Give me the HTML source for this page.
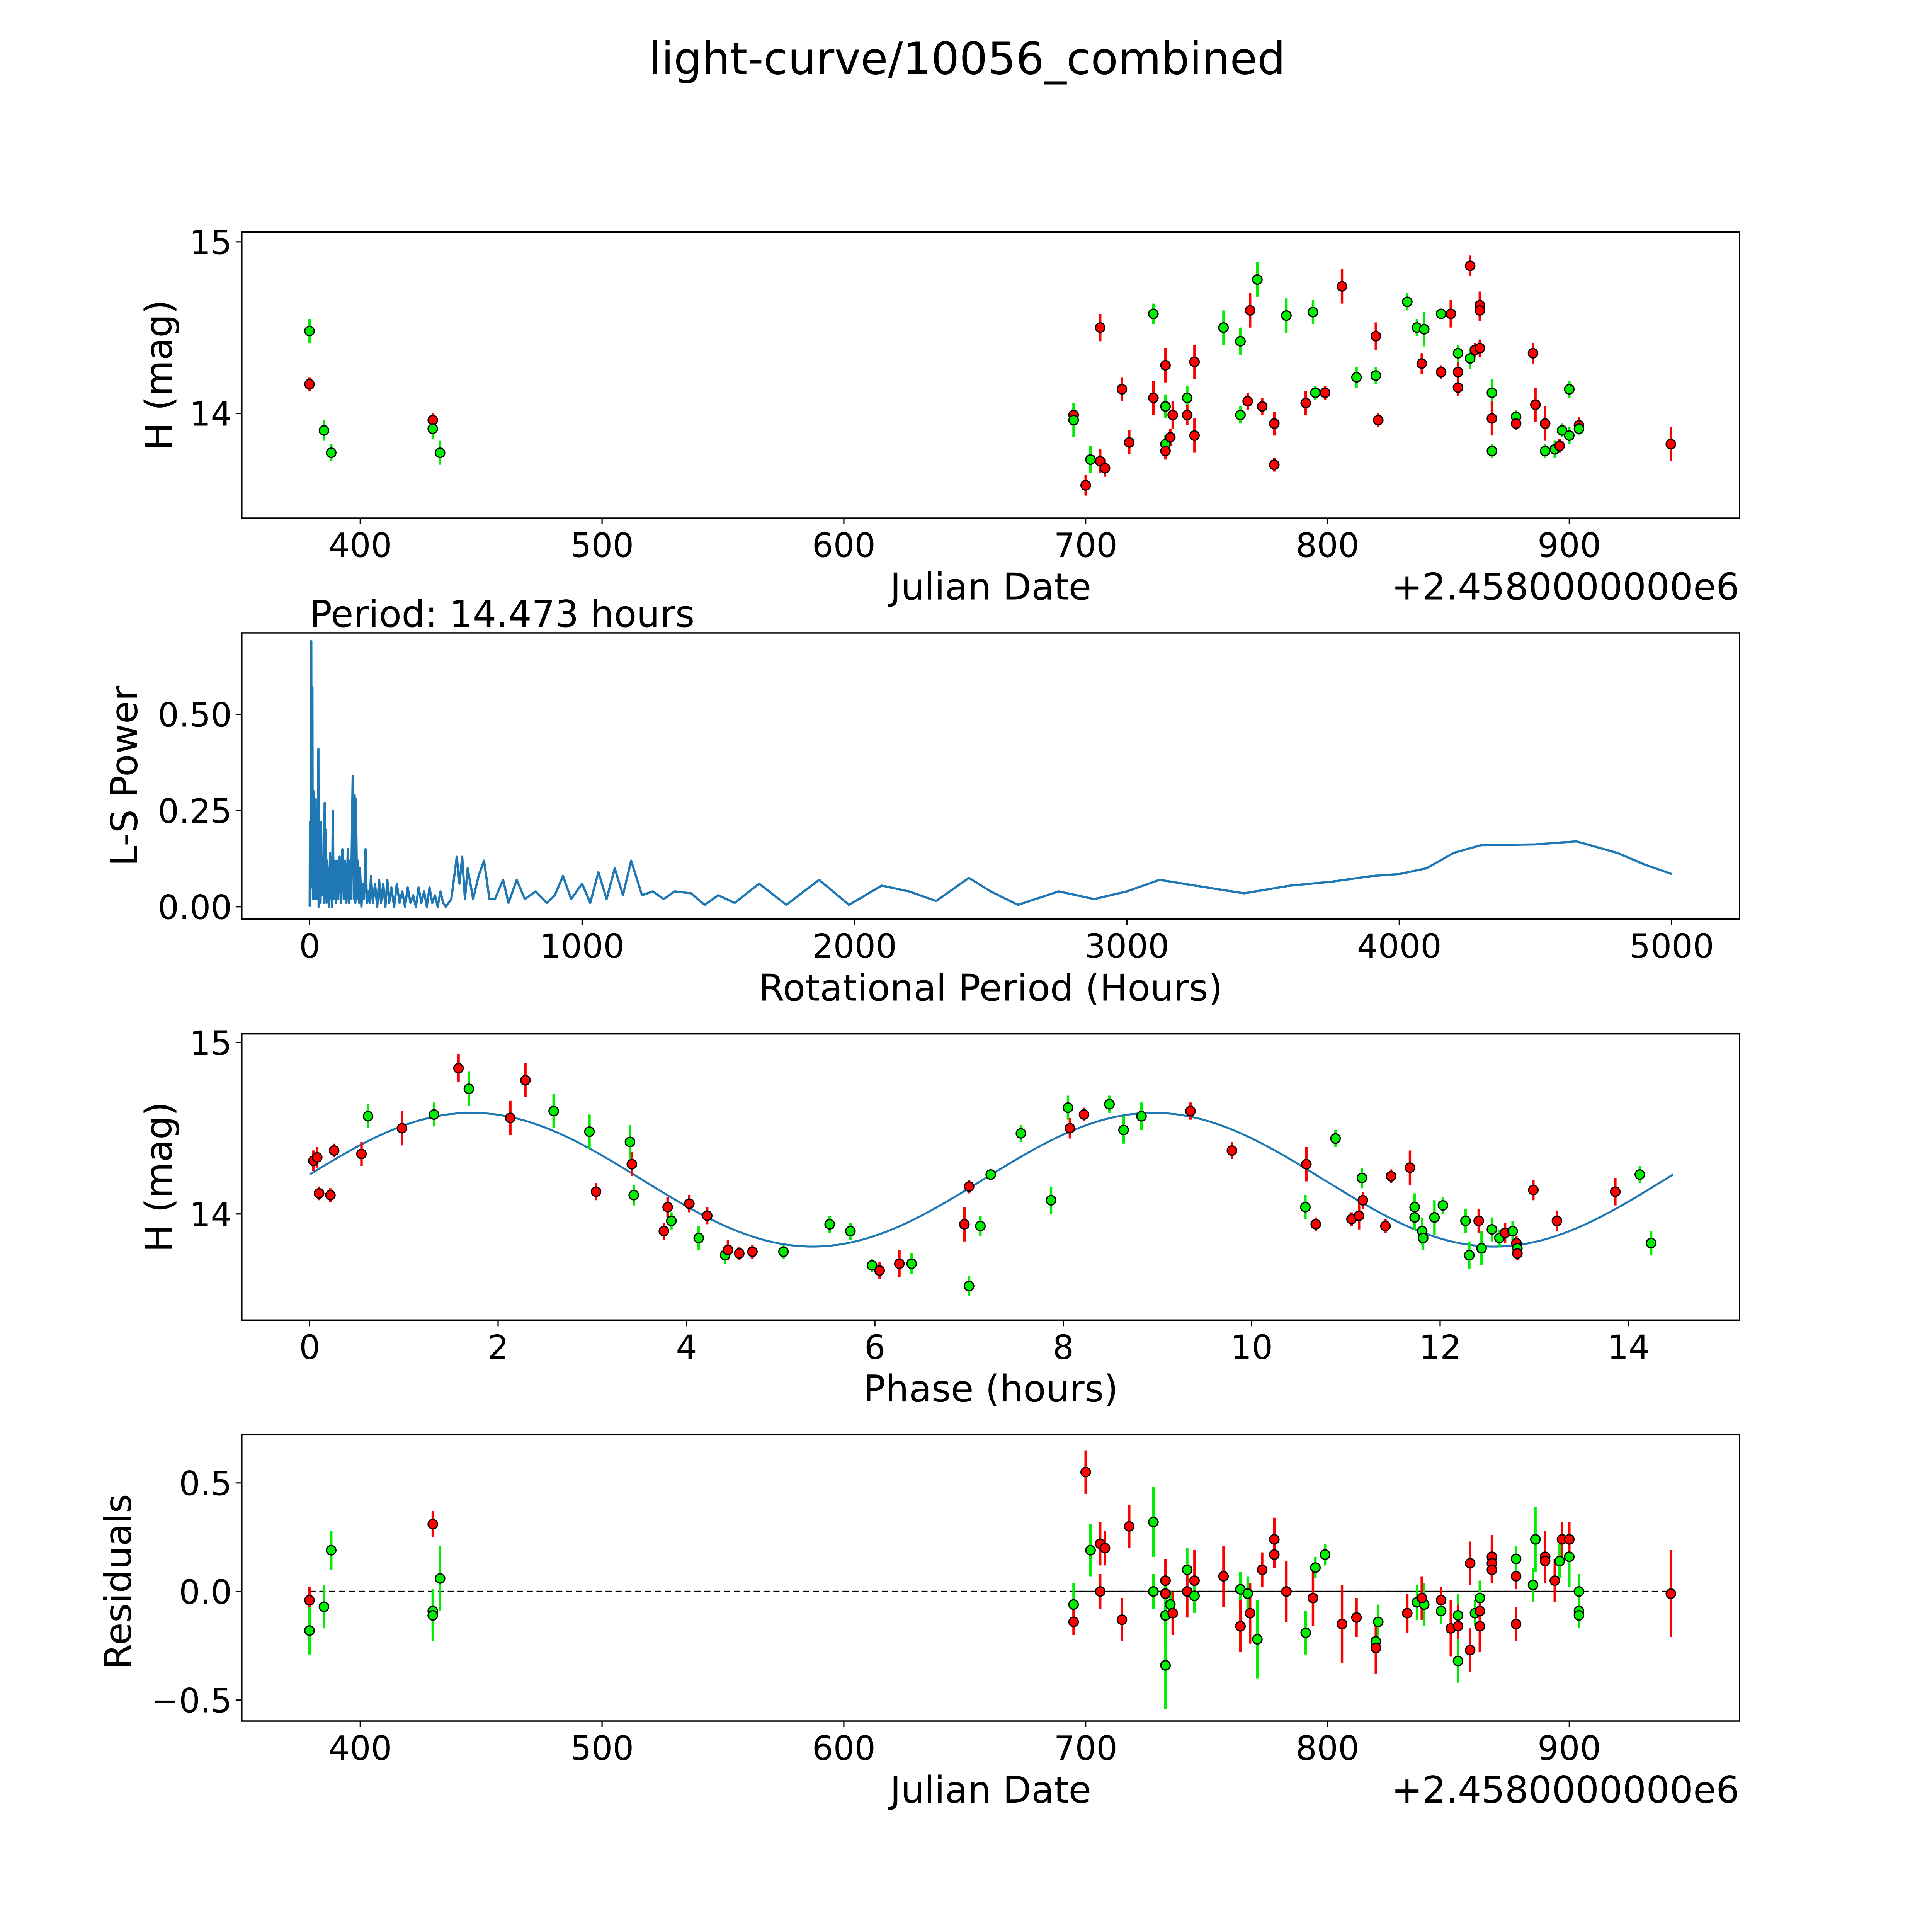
<!DOCTYPE html>
<html><head><meta charset="utf-8"><style>
html,body{margin:0;padding:0;background:#fff;width:100%;height:100%;overflow:hidden}
svg{display:block;width:100vw;height:100vh}
text{font-family:"DejaVu Sans","Liberation Sans",sans-serif;fill:#000}
</style></head><body>
<svg id="fig" viewBox="0 0 1566 1566" preserveAspectRatio="xMidYMid meet" xmlns="http://www.w3.org/2000/svg">
<rect width="1566" height="1566" fill="#fff"/>
<text x="784" y="60" font-size="36" text-anchor="middle">light-curve/10056_combined</text>
<g id="g1"></g>
<g id="g2"></g>
<g id="g3"></g>
<g id="g4"></g>
</svg>
<script>
// ---- Panel 1: light curve ----
const lcJD=[379,379,385,388,430,430,433,695,695,700,702,706,706,708,715,718,728,728,733,733,733,733,735,736,742,742,745,745,757,764,764,767,768,771,773,778,778,783,791,794,795,799,806,812,820,820,821,833,837,840,839,847,847,851,854,854,854,859,859,861,863,863,863,868,868,868,878,878,885,886,890,890,894,896,897,900,900,904,904,942];
const lcMag=[14.48,14.17,13.90,13.77,13.96,13.91,13.77,13.99,13.96,13.58,13.73,13.72,14.50,13.68,14.14,13.83,14.09,14.58,14.28,14.04,13.82,13.78,13.86,13.99,14.09,13.99,14.30,13.87,14.50,14.42,13.99,14.07,14.60,14.78,14.04,13.70,13.94,14.57,14.06,14.59,14.12,14.12,14.74,14.21,14.22,14.45,13.96,14.65,14.50,14.49,14.29,14.24,14.58,14.58,14.35,14.24,14.15,14.86,14.32,14.37,14.38,14.63,14.60,14.12,13.97,13.78,13.98,13.94,14.35,14.05,13.94,13.78,13.79,13.81,13.90,13.87,14.14,13.93,13.91,13.82];
const lcErr=[0.07,0.04,0.06,0.05,0.04,0.06,0.07,0.04,0.1,0.06,0.08,0.07,0.08,0.05,0.07,0.07,0.1,0.06,0.1,0.07,0.05,0.05,0.05,0.08,0.07,0.06,0.1,0.1,0.1,0.08,0.05,0.05,0.1,0.1,0.05,0.04,0.07,0.1,0.07,0.07,0.04,0.04,0.1,0.06,0.05,0.08,0.04,0.05,0.05,0.1,0.06,0.04,0.03,0.08,0.05,0.06,0.05,0.06,0.06,0.04,0.05,0.08,0.06,0.08,0.1,0.04,0.04,0.04,0.06,0.1,0.1,0.04,0.05,0.04,0.04,0.05,0.05,0.05,0.04,0.1];
const lcBand="grggrgg" + "rgrgrrrrrrgrggrrrgrrrggg" + "rrgrrrgrgg" + "rrggrrgggrrgrgrrrgrrrrgrggrrrrggrgggrgrgrg";
// ---- Panel 2: periodogram ----
const lsPeriod=[0,1,2,3,4,5,6,7,8,9,10,11,12,13,15,16,18,20,22,24,25,27,30,32,33,35,38,40,42,45,50,52,55,58,60,62,65,68,70,72,75,78,80,82,85,88,92,96,100,104,110,114,120,125,130,135,140,144,148,152,158,162,165,168,170,174,178,182,185,190,195,200,205,210,215,220,225,232,240,248,255,262,270,278,285,292,300,310,320,330,340,350,360,370,380,390,400,410,420,430,440,450,460,470,480,490,500,520,540,550,560,570,580,600,620,640,660,680,710,730,760,790,830,870,900,930,960,1000,1030,1060,1090,1120,1150,1180,1220,1260,1300,1340,1400,1450,1500,1560,1650,1750,1870,1980,2100,2200,2300,2420,2500,2600,2750,2880,3000,3120,3250,3430,3600,3750,3900,4000,4100,4200,4300,4500,4650,4800,4900,5000];
const lsPower=[0,0.22,0.02,0.18,0.05,0.4,0.69,0.1,0.5,0.05,0.57,0.1,0.02,0.25,0.3,0.02,0.2,0.05,0.28,0.02,0.1,0.25,0.02,0.41,0.0,0.2,0.15,0.01,0.22,0.03,0.13,0.01,0.27,0.02,0.2,0.01,0.12,0.02,0.1,0.0,0.14,0.02,0.12,0.0,0.25,0.02,0.12,0.01,0.12,0.02,0.13,0.01,0.15,0.02,0.12,0.01,0.15,0.01,0.12,0.02,0.34,0.02,0.29,0.01,0.28,0.02,0.12,0.01,0.1,0.0,0.06,0.02,0.15,0.01,0.04,0.01,0.08,0.01,0.06,0.0,0.07,0.01,0.06,0.0,0.07,0.01,0.05,0.0,0.06,0.01,0.04,0.0,0.05,0.01,0.03,0.0,0.05,0.01,0.04,0.0,0.05,0.01,0.03,0.0,0.04,0.01,0.0,0.02,0.13,0.06,0.13,0.02,0.10,0.02,0.08,0.12,0.02,0.02,0.07,0.01,0.07,0.02,0.04,0.01,0.03,0.08,0.02,0.06,0.01,0.09,0.02,0.10,0.03,0.12,0.03,0.04,0.02,0.04,0.035,0.005,0.03,0.01,0.06,0.005,0.07,0.005,0.055,0.04,0.015,0.075,0.04,0.005,0.04,0.02,0.04,0.07,0.055,0.035,0.055,0.065,0.08,0.085,0.10,0.14,0.16,0.162,0.17,0.14,0.11,0.085];
// ---- Panel 3: phase-folded ----
const phPhase=[0.04,0.08,0.1,0.22,0.26,0.55,0.62,0.98,1.32,1.58,1.69,2.13,2.29,2.59,2.97,3.04,3.40,3.42,3.44,3.76,3.80,3.84,4.03,4.13,4.22,4.41,4.44,4.56,4.70,5.03,5.52,5.74,5.97,6.05,6.26,6.39,6.95,7.0,7.0,7.12,7.23,7.55,7.87,8.05,8.07,8.22,8.49,8.64,8.83,9.35,9.79,10.57,10.58,10.68,10.89,11.06,11.14,11.18,11.17,11.42,11.48,11.68,11.73,11.73,11.81,11.82,11.94,12.03,12.27,12.31,12.41,12.44,12.55,12.63,12.69,12.77,12.81,12.82,12.82,12.99,13.24,13.86,14.12,14.24];
const phMag=[14.31,14.33,14.12,14.11,14.37,14.35,14.57,14.50,14.58,14.85,14.73,14.56,14.78,14.60,14.48,14.13,14.42,14.29,14.11,13.90,14.04,13.96,14.06,13.86,13.99,13.76,13.79,13.77,13.78,13.78,13.94,13.90,13.70,13.67,13.71,13.71,13.94,13.58,14.16,13.93,14.23,14.47,14.08,14.62,14.50,14.58,14.64,14.49,14.57,14.60,14.37,14.04,14.29,13.94,14.44,13.97,13.99,14.08,14.21,13.93,14.22,14.27,14.04,13.98,13.90,13.86,13.98,14.05,13.96,13.76,13.96,13.80,13.91,13.86,13.89,13.90,13.83,13.80,13.77,14.14,13.96,14.13,14.23,13.83];
const phErr=[0.06,0.06,0.04,0.04,0.04,0.07,0.07,0.1,0.07,0.08,0.1,0.1,0.1,0.1,0.1,0.05,0.1,0.07,0.06,0.05,0.06,0.05,0.05,0.07,0.05,0.05,0.06,0.04,0.04,0.04,0.05,0.05,0.04,0.05,0.08,0.06,0.1,0.06,0.04,0.06,0.03,0.05,0.08,0.07,0.06,0.04,0.05,0.08,0.08,0.05,0.05,0.07,0.1,0.04,0.05,0.04,0.08,0.05,0.06,0.04,0.04,0.1,0.08,0.07,0.08,0.07,0.1,0.05,0.07,0.08,0.07,0.1,0.07,0.05,0.06,0.06,0.04,0.06,0.04,0.06,0.06,0.08,0.05,0.07];
const phBand="rrrrrrgrgrgrrggrgrgrrgrgrgrrrggggrrgrgrgggggrrgggrrgrrgrrrgrrrggggggggrgggrgrgrrrrggrrr";
const modelCoef=[14.2,0.39,1.72,14.473];
// ---- Panel 4: residuals ----
const rsJD=[379,379,385,388,430,430,430,433,695,695,700,702,706,706,708,715,718,728,728,733,733,733,733,735,736,742,742,745,745,757,764,764,767,768,771,773,778,778,783,791,794,795,799,806,812,820,820,821,833,837,840,839,847,847,851,854,854,854,859,859,861,863,863,863,868,868,868,878,878,878,885,886,890,890,894,896,897,900,900,904,904,904,942];
const rsVal=[-0.04,-0.18,-0.07,0.19,0.31,-0.09,-0.11,0.06,-0.06,-0.14,0.55,0.19,0.22,0.0,0.2,-0.13,0.3,0.32,0,0.05,-0.01,-0.11,-0.34,-0.06,-0.1,0.1,0,0.05,-0.02,0.07,0.01,-0.16,-0.01,-0.1,-0.22,0.1,0.17,0.24,0,-0.19,-0.03,0.11,0.17,-0.15,-0.12,-0.23,-0.26,-0.14,-0.1,-0.05,-0.06,-0.03,-0.04,-0.09,-0.17,-0.11,-0.16,-0.32,-0.27,0.13,-0.1,-0.03,-0.16,-0.09,0.16,0.13,0.1,0.07,0.15,-0.15,0.03,0.24,0.16,0.14,0.05,0.14,0.24,0.16,0.24,0,-0.09,-0.11,-0.01];
const rsErr=[0.06,0.11,0.1,0.09,0.06,0.1,0.12,0.15,0.1,0.06,0.1,0.12,0.1,0.08,0.08,0.1,0.1,0.16,0.08,0.1,0.06,0.14,0.2,0.06,0.1,0.1,0.12,0.14,0.08,0.14,0.08,0.12,0.08,0.14,0.18,0.08,0.06,0.1,0.14,0.1,0.13,0.05,0.05,0.18,0.09,0.08,0.12,0.08,0.09,0.08,0.1,0.1,0.06,0.06,0.13,0.1,0.1,0.1,0.1,0.1,0.06,0.08,0.12,0.08,0.1,0.08,0.06,0.06,0.06,0.08,0.08,0.15,0.12,0.06,0.1,0.08,0.08,0.14,0.08,0.08,0.06,0.06,0.2];
const rsBand="rgggrgggg" + "rrgrrrrrggrrgggrgrrgrgrgrgrrrrgrggrrgrgrggrrgrgr" + "grrggrrrrrrgrggrrrgrgrgggrgrggrgg";

const NS="http://www.w3.org/2000/svg";
function mk(parent,tag,attrs,txt){const e=document.createElementNS(NS,tag);for(const k in attrs)e.setAttribute(k,attrs[k]);if(txt!==undefined)e.textContent=txt;parent.appendChild(e);return e;}
const L=196,R=1410,H=232;
function lin(d0,d1,p0,p1){return v=>p0+(v-d0)*(p1-p0)/(d1-d0);}
function frame(g,top){const r=mk(g,'rect',{x:L,y:top,width:R-L,height:H,fill:'none',stroke:'#000','stroke-width':1.1});

}
function xticks(g,top,vals,labels,sx){vals.forEach((v,i)=>{const x=sx(v);
mk(g,'line',{x1:x,x2:x,y1:top+H,y2:top+H+5,stroke:'#000','stroke-width':1});
const t=mk(g,'text',{x:x,y:top+H+31.5,'font-size':27,'text-anchor':'middle'},labels[i]);

});}
function yticks(g,vals,labels,sy){vals.forEach((v,i)=>{const y=sy(v);
mk(g,'line',{x1:L-5,x2:L,y1:y,y2:y,stroke:'#000','stroke-width':1});
const t=mk(g,'text',{x:L-8,y:y+10,'font-size':27,'text-anchor':'end'},labels[i]);

});}
function label(g,x,y,txt,rot,name,anchor,fs){const t=mk(g,'text',{x:x,y:y,'font-size':fs||30,'text-anchor':anchor||'middle',transform:rot?`rotate(-90 ${x} ${y})`:''},txt);

}
function points(g,xs,ys,es,bands,sx,sy){xs.forEach((xv,i)=>{const x=sx(xv),c=bands[i]==='r'?'#ff0000':'#00ee00';
const ln=mk(g,'line',{x1:x,x2:x,y1:sy(ys[i]-es[i]),y2:sy(ys[i]+es[i]),stroke:c,'stroke-width':2});

});
xs.forEach((xv,i)=>{const c=bands[i]==='r'?'#ff0000':'#00ee00';
const p=mk(g,'circle',{cx:sx(xv),cy:sy(ys[i]),r:3.8,fill:c,stroke:'#000','stroke-width':1});

});}
const jdTicks=[400,500,600,700,800,900];
// Panel 1
{const g=document.getElementById('g1'),top=188;const sx=lin(400,900,292,1272),sy=lin(15,14,196,335);
points(g,lcJD,lcMag,lcErr,lcBand,sx,sy);frame(g,top);
xticks(g,top,jdTicks,jdTicks.map(String),sx);yticks(g,[14,15],['14','15'],sy);
label(g,803,486,'Julian Date',false,'x-axis-title');label(g,139,304,'H (mag)',true,'y-axis-title');
label(g,1410,486,'+2.4580000000e6',false,'x-offset-label','end');}
// Panel 2
{const g=document.getElementById('g2'),top=513;const sx=lin(0,5000,251,1355),sy=lin(0,0.5,735,579);
const pts=lsPeriod.map((p,i)=>sx(p).toFixed(2)+','+sy(lsPower[i]).toFixed(2)).join(' ');
const pl=mk(g,'polyline',{points:pts,fill:'none',stroke:'#1f77b4','stroke-width':1.8,'stroke-linejoin':'round'});


frame(g,top);
const xt=[0,1000,2000,3000,4000,5000];xticks(g,top,xt,xt.map(String),sx);
yticks(g,[0,0.25,0.5],['0.00','0.25','0.50'],sy);
label(g,803,811,'Rotational Period (Hours)',false,'x-axis-title');label(g,111,629,'L-S Power',true,'y-axis-title');
label(g,251,508,'Period: 14.473 hours',false,'period-annotation','start');}
// Panel 3
{const g=document.getElementById('g3'),top=838;const sx=lin(0,14,251,1320),sy=lin(15,14,845,984);
const [m0,amp,pk,per]=modelCoef;let d='';for(let i=0;i<=300;i++){const ph=per*i/300;const v=m0+amp*Math.cos(2*Math.PI*(ph-pk)/(per/2));d+=(i?'L':'M')+sx(ph).toFixed(2)+' '+sy(v).toFixed(2);}
const mp=mk(g,'path',{d:d,fill:'none',stroke:'#1f77b4','stroke-width':1.6});


points(g,phPhase,phMag,phErr,phBand,sx,sy);frame(g,top);
const xt=[0,2,4,6,8,10,12,14];xticks(g,top,xt,xt.map(String),sx);yticks(g,[14,15],['14','15'],sy);
label(g,803,1136,'Phase (hours)',false,'x-axis-title');label(g,139,954,'H (mag)',true,'y-axis-title');}
// Panel 4
{const g=document.getElementById('g4'),top=1163;const sx=lin(400,900,292,1272),sy=lin(0,0.5,1290,1202);
const zl=mk(g,'line',{x1:sx(379),x2:sx(942),y1:sy(0),y2:sy(0),stroke:'#000','stroke-width':1.2,'stroke-dasharray':'5,3'});


const zs=mk(g,'line',{x1:sx(695),x2:sx(904),y1:sy(0),y2:sy(0),stroke:'#000','stroke-width':1.2});


points(g,rsJD,rsVal,rsErr,rsBand,sx,sy);frame(g,top);
xticks(g,top,jdTicks,jdTicks.map(String),sx);yticks(g,[-0.5,0,0.5],['\u22120.5','0.0','0.5'],sy);
label(g,803,1461,'Julian Date',false,'x-axis-title');label(g,106,1282,'Residuals',true,'y-axis-title');
label(g,1410,1461,'+2.4580000000e6',false,'x-offset-label','end');}
</script>
</body></html>
